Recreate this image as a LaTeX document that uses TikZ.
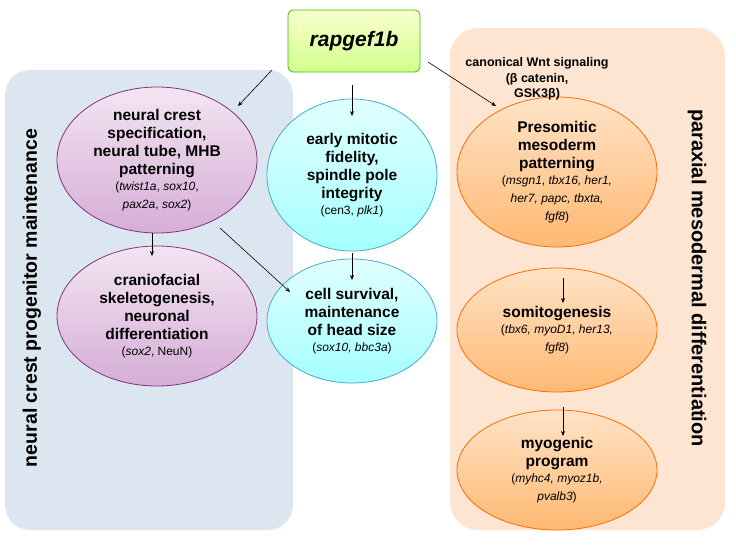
\documentclass[tikz,border=0pt]{standalone}
\usepackage{fontspec}
\setmainfont{Liberation Sans}
\usetikzlibrary{shapes.geometric,arrows.meta}
\definecolor{pblue}{HTML}{DCE6F1}
\definecolor{ppeach}{HTML}{FDE5D2}
\newcommand{\dtl}{\mdseries\fontsize{12}{13.5}\selectfont}
\begin{document}
\begin{tikzpicture}[x=1pt,y=-1pt,
  el/.style={ellipse,draw,line width=0.8pt,align=center,inner sep=-14pt,font=\bfseries\fontsize{15.5}{18}\selectfont},
  purp/.style={el,draw=violet!60!gray,top color=violet!10,bottom color=violet!32},
  cyan/.style={el,draw=cyan!70!gray,top color=cyan!12,bottom color=cyan!35},
  oran/.style={el,draw=orange!85!red,top color=orange!22,bottom color=orange!55},
  arr/.style={-{Stealth[length=5pt,width=4pt]},line width=0.6pt}]
\useasboundingbox (0,0) rectangle (736,544);
\fill[white] (0,0) rectangle (736,544);
\fill[pblue,rounded corners=25pt] (5,70) rectangle (293,530);
\fill[ppeach,rounded corners=28pt] (450,28) rectangle (725,530);
\node[rotate=90,font=\bfseries\fontsize{19.5}{21}\selectfont] (lt) at (32,298) {neural crest progenitor maintenance};
\node[rotate=-90,font=\bfseries\fontsize{20}{22}\selectfont] (rt) at (697,278) {paraxial mesodermal differentiation};
\node[draw=green!50!olive,line width=0.8pt,rounded corners=5pt,top color=green!10!yellow!20,bottom color=green!40!yellow!45,minimum width=132pt,minimum height=62pt,font=\bfseries\itshape\fontsize{21}{23}\selectfont] (r) at (354,41) {rapgef1b};
\node[purp,minimum width=200pt,minimum height=146pt] (a) at (157,160) {neural crest\\specification,\\neural tube, MHB\\patterning\\[-2pt]{\dtl(\textit{twist1a}, \textit{sox10},}\\{\dtl\textit{pax2a}, \textit{sox2})}};
\node[purp,minimum width=200pt,minimum height=140pt] (b) at (157,316) {craniofacial\\skeletogenesis,\\neuronal\\differentiation\\[-2pt]{\dtl(\textit{sox2}, NeuN)}};
\node[cyan,minimum width=170pt,minimum height=152pt] (c) at (352,175) {early mitotic\\fidelity,\\spindle pole\\integrity\\[-2pt]{\dtl(cen3, \textit{plk1})}};
\node[cyan,minimum width=170pt,minimum height=124pt] (d) at (352,321) {cell survival,\\maintenance\\of head size\\[-2pt]{\dtl(\textit{sox10, bbc3a})}};
\node[oran,minimum width=200pt,minimum height=150pt] (e) at (557,172) {Presomitic\\mesoderm\\patterning\\[-2pt]{\dtl(\textit{msgn1}, \textit{tbx16, her1,}}\\{\dtl\textit{her7, papc, tbxta,}}\\{\dtl\textit{fgf8})}};
\node[oran,minimum width=200pt,minimum height=124pt] (f) at (557,330) {somitogenesis\\[-2pt]{\dtl(\textit{tbx6, myoD1, her13,}}\\{\dtl\textit{fgf8})}};
\node[oran,minimum width=200pt,minimum height=120pt] (g) at (557,470) {myogenic\\program\\[-2pt]{\dtl(\textit{myhc4, myoz1b,}}\\{\dtl\textit{pvalb3})}};
\node[align=center,font=\bfseries\fontsize{12.5}{15.5}\selectfont] (w) at (537,79) {canonical Wnt signaling\\(β catenin,\\GSK3β)};
\coordinate (p1) at (272,70); \coordinate (q1) at (238,106);
\coordinate (p2) at (352,85); \coordinate (q2) at (352,116);
\coordinate (p3) at (428,62); \coordinate (q3) at (496,106);
\coordinate (p4) at (152,233); \coordinate (q4) at (152,256);
\coordinate (p5) at (220,228); \coordinate (q5) at (290,292);
\coordinate (p6) at (352,253); \coordinate (q6) at (352,280);
\coordinate (p7) at (563,278); \coordinate (q7) at (563,303);
\coordinate (p8) at (563,407); \coordinate (q8) at (563,436);
\foreach \i in {1,...,8} \draw[arr] (p\i) -- (q\i);
\end{tikzpicture}
\end{document}
